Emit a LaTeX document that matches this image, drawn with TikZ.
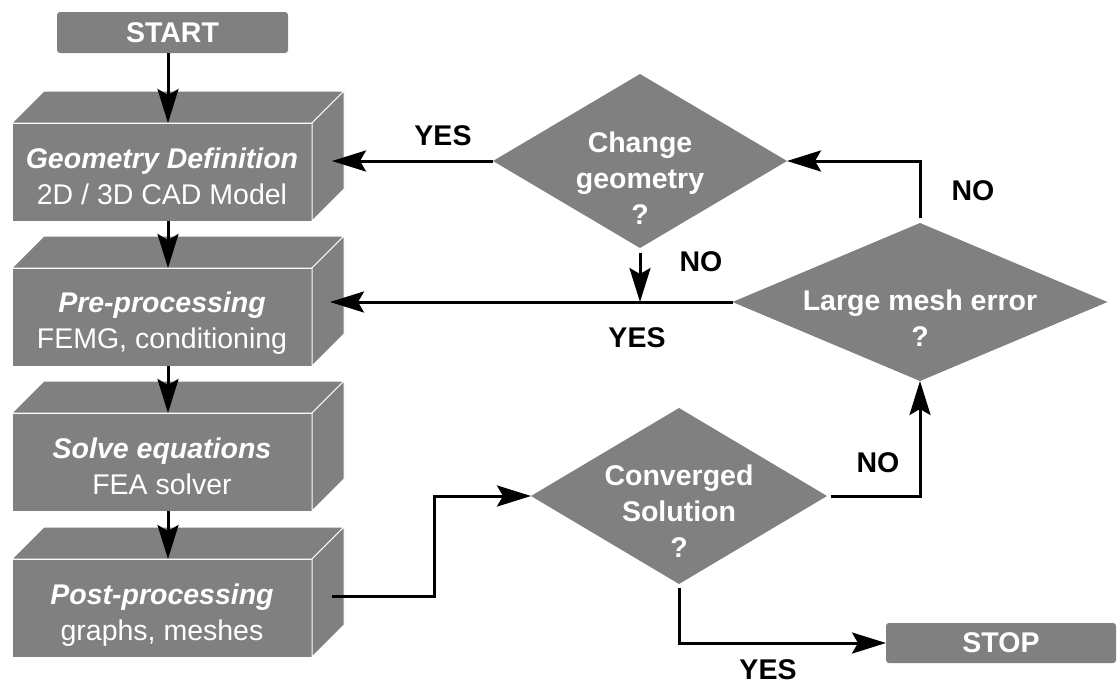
\documentclass[tikz,border=0pt]{standalone}
\usepackage{fontspec}
\setmainfont{Liberation Sans}
\usetikzlibrary{arrows.meta,shapes.geometric}
\definecolor{boxgray}{HTML}{808080}
\begin{document}
\begin{tikzpicture}[x=1pt,y=-1pt,
  font=\fontsize{28.5}{36}\selectfont,
  face/.style={rectangle, fill=boxgray, draw=white, line width=1pt,
    minimum width=300pt, minimum height=98pt, inner sep=0pt, outer sep=0pt},
  boxtext/.style={text=white, align=center, inner sep=0pt},
  side/.style={fill=boxgray, draw=white, line width=1pt, line join=round},
  term/.style={rectangle, rounded corners=3pt, fill=boxgray, inner sep=0pt,
    outer sep=0pt, text=white, font=\fontsize{28.5}{36}\selectfont\bfseries},
  decision/.style={diamond, fill=boxgray, inner sep=0pt, outer sep=0pt},
  qtext/.style={text=white, font=\fontsize{28.5}{36}\selectfont\bfseries,
    align=center, inner sep=0pt},
  answer/.style={font=\fontsize{28.5}{36}\selectfont\bfseries, inner sep=0pt},
  flow/.style={line width=3pt, -{Stealth[length=34pt,width=21pt,inset=6pt]}}
]
\useasboundingbox (0,0) rectangle (1117,689);
\fill[white] (0,0) rectangle (1117,689);

% terminals
\node[term, minimum width=231pt, minimum height=41pt] (startbox) at (172.5,32.5) {START};
\node[term, minimum width=230pt, minimum height=40pt] (stopbox) at (1001,643) {STOP};

% process blocks (front faces)
\node[face] (box1) at (162,172) {};
\node[face] (box2) at (162,317) {};
\node[face] (box3) at (162,462) {};
\node[face] (box4) at (162,608) {};

% top and right faces of the blocks
\foreach \b in {box1,box2,box3,box4}{
  \filldraw[side] (\b.north west) -- ++(32,-32) -- ([shift={(32,-32)}]\b.north east)
    -- (\b.north east) -- cycle;
  \filldraw[side] (\b.north east) -- ++(32,-32) -- ([shift={(32,-32)}]\b.south east)
    -- (\b.south east) -- cycle;
}

\node[boxtext] (box1t) at ([yshift=-4pt]box1.center) {\textbf{\itshape Geometry Definition}\\2D / 3D CAD Model};
\node[boxtext] (box2t) at ([yshift=-6pt]box2.center) {\textbf{\itshape Pre-processing}\\FEMG, conditioning};
\node[boxtext] (box3t) at ([yshift=-4pt]box3.center) {\textbf{\itshape Solve equations}\\FEA solver};
\node[boxtext] (box4t) at ([yshift=-7pt]box4.center) {\textbf{\itshape Post-processing}\\graphs, meshes};

% decisions
\node[decision, minimum width=294pt, minimum height=174pt] (q1) at (640,161) {};
\node[decision, minimum width=375pt, minimum height=158pt] (q2) at (920,302) {};
\node[decision, minimum width=296pt, minimum height=176pt] (q3) at (679,496) {};
\node[qtext] (q1t) at (640,178) {Change\\geometry\\?};
\node[qtext] (q2t) at (920,318) {Large mesh error\\?};
\node[qtext] (q3t) at (679,511) {Converged\\Solution\\?};

% main column
\coordinate (spine) at (168,0);
\draw[flow] (spine |- startbox.south) -- (spine |- box1.north);
\draw[flow] (spine |- box1.south) -- (spine |- box2.north);
\draw[flow] (spine |- box2.south) -- (spine |- box3.north);
\draw[flow] (spine |- box3.south) -- (spine |- box4.north);

% loops
\coordinate (b1in) at ([xshift=20pt]box1.east);
\coordinate (b2in) at ([xshift=18pt]box2.east);
\coordinate (b4out) at ([xshift=20pt,yshift=12pt]box4.east);
\draw[flow] (b4out) -- ++(102,0) |- (q3.west);
\draw[flow] ([xshift=4pt]q3.east) -| (q2.south);
\draw[flow] ([yshift=-4pt]q3.south) |- (stopbox.west);
\draw[flow] ([yshift=5pt]q2.north) |- (q1.east);
\draw[flow] (q1.west) -- (b1in |- q1.west);
\draw[flow] ([yshift=-5pt]q1.south) -- (q1.south |- q2.west);
\draw[flow] (q2.west) -- (b2in |- q2.west);

% answers
\node[answer] (yes1) at (443,136) {YES};
\node[answer] (no1) at (701,262) {NO};
\node[answer] (yes2) at (637,338) {YES};
\node[answer] (no2) at (973,191) {NO};
\node[answer] (no3) at (878,463) {NO};
\node[answer] (yes3) at (768,670) {YES};
\end{tikzpicture}
\end{document}
